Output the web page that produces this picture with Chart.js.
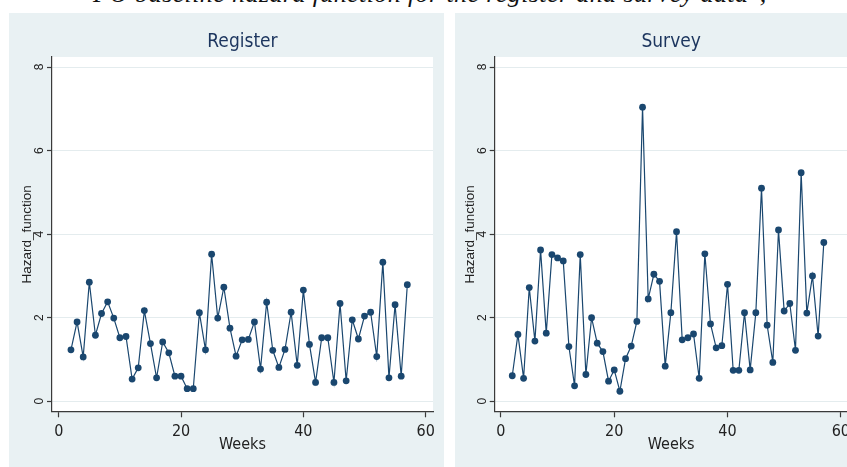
<!DOCTYPE html>
<html>
<head>
<meta charset="utf-8">
<script src="https://cdn.jsdelivr.net/npm/chart.js@4.4.0/dist/chart.umd.min.js"></script>
<style>
  html, body { margin: 0; padding: 0; background: #fff; width: 847px; height: 467px; overflow: hidden; }
  #caption { position: absolute; left: 93px; top: -21px; font: italic 26px 'Liberation Serif', 'Times New Roman', serif; letter-spacing: 0.4px; line-height: 30px; white-space: nowrap; color: #111; }
  .panel { position: absolute; top: 13px; height: 454px; background: #e9f1f3; }
  #register-panel { left: 9px; width: 435px; }
  #survey-panel { left: 455px; width: 403px; }
  .panel canvas { display: block; }
</style>
</head>
<body>
<div id="caption">PO baseline hazard function for the register and survey data",</div>
<div class="panel" id="register-panel"><canvas id="register-chart"></canvas></div>
<div class="panel" id="survey-panel"><canvas id="survey-chart"></canvas></div>
<script>
var weeks = [2, 3, 4, 5, 6, 7, 8, 9, 10, 11, 12, 13, 14, 15, 16, 17, 18, 19, 20, 21,
  22, 23, 24, 25, 26, 27, 28, 29, 30, 31, 32, 33, 34, 35, 36, 37, 38, 39, 40, 41,
  42, 43, 44, 45, 46, 47, 48, 49, 50, 51, 52, 53, 54, 55, 56, 57];

var register_hazard = [1.23, 1.90, 1.06, 2.85, 1.58, 2.10, 2.38, 1.99, 1.52, 1.55,
  0.53, 0.80, 2.17, 1.38, 0.56, 1.42, 1.16, 0.60, 0.60, 0.30,
  0.30, 2.12, 1.23, 3.52, 1.99, 2.73, 1.75, 1.08, 1.47, 1.48,
  1.90, 0.77, 2.37, 1.22, 0.81, 1.24, 2.13, 0.86, 2.66, 1.36,
  0.45, 1.52, 1.52, 0.45, 2.34, 0.49, 1.95, 1.49, 2.04, 2.13,
  1.07, 3.33, 0.56, 2.31, 0.60, 2.79];

var survey_hazard = [0.61, 1.60, 0.55, 2.72, 1.44, 3.62, 1.63, 3.51, 3.43, 3.36,
  1.31, 0.37, 3.51, 0.64, 2.00, 1.39, 1.19, 0.48, 0.75, 0.24,
  1.02, 1.32, 1.91, 7.04, 2.45, 3.04, 2.87, 0.84, 2.12, 4.06,
  1.47, 1.52, 1.61, 0.55, 3.53, 1.85, 1.28, 1.33, 2.80, 0.74,
  0.74, 2.12, 0.75, 2.12, 5.10, 1.82, 0.93, 4.10, 2.16, 2.34,
  1.22, 5.47, 2.11, 3.00, 1.56, 3.80];

var week_ticks = [0, 20, 40, 60];
var hazard_ticks = [0, 2, 4, 6, 8];

const NAVY = "#1a476f";
const AXIS = "#3a3a3a";
const NARROW = "'Liberation Sans Narrow', 'Arial Narrow', 'DejaVu Sans Condensed', sans-serif";

// white plot region on top of the tinted panel
const plot_background = {
  id: "plot_background",
  beforeDraw(chart) {
    const { ctx, chartArea: a } = chart;
    ctx.save();
    ctx.fillStyle = "#fff";
    ctx.fillRect(a.left, a.top, a.right - a.left, a.bottom - a.top);
    ctx.restore();
  },
};

function gen_chart(canvas_id, title, values, dims) {
  var points = weeks.map((w, i) => ({ x: w, y: values[i] }));

  return new Chart(document.getElementById(canvas_id), {
    type: "line",
    data: {
      datasets: [
        {
          data: points,
          borderColor: NAVY,
          backgroundColor: NAVY,
          borderWidth: 1.2,
          pointRadius: 3.4,
          pointHoverRadius: 3.4,
          pointBorderWidth: 0,
          pointBackgroundColor: NAVY,
          tension: 0,
        },
      ],
    },
    options: {
      responsive: true,
      maintainAspectRatio: false,
      animation: false,
      events: [],
      layout: { padding: { left: 0, right: dims.right, top: 0, bottom: 0 } },
      plugins: {
        legend: { display: false },
        tooltip: { enabled: false },
        title: {
          display: true,
          text: title,
          fullSize: false,
          color: "#1c355e",
          font: { family: NARROW, size: 19, weight: "normal" },
          padding: { top: 18, bottom: 3.2 },
        },
      },
      scales: {
        x: {
          type: "linear",
          min: -1.1,
          max: 61.2,
          afterFit(s) {
            s.height = 55.3;
          },
          afterBuildTicks(s) {
            s.ticks = week_ticks.map((v) => ({ value: v }));
          },
          border: { color: AXIS, width: 1.2 },
          grid: {
            drawOnChartArea: false,
            drawTicks: true,
            tickLength: 5.6,
            tickColor: AXIS,
            tickWidth: 1.2,
          },
          ticks: {
            maxRotation: 0,
            padding: 5,
            color: "#222",
            font: { family: NARROW, size: 16 },
          },
          title: {
            display: true,
            text: "Weeks",
            color: "#222",
            font: { family: NARROW, size: 16 },
            padding: { top: 0, bottom: 12.4 },
          },
        },
        y: {
          min: -0.25,
          max: 8.24,
          afterFit(s) {
            s.width = dims.y_width;
          },
          afterBuildTicks(s) {
            s.ticks = hazard_ticks.map((v) => ({ value: v }));
          },
          border: { color: AXIS, width: 1.2 },
          grid: {
            color: "#e4ecee",
            lineWidth: 1,
            drawTicks: true,
            tickLength: 5,
            tickColor: AXIS,
            tickWidth: 1.2,
          },
          ticks: {
            minRotation: 90,
            maxRotation: 90,
            crossAlign: "center",
            padding: dims.tick_pad,
            color: "#222",
            font: { family: "'Liberation Sans', Arial, sans-serif", size: 12 },
          },
          title: {
            display: true,
            text: "Hazard_function",
            color: "#222",
            font: { family: "'Liberation Sans', Arial, sans-serif", size: 13.5 },
            padding: { top: dims.title_pad, bottom: 0 },
          },
        },
      },
    },
    plugins: [plot_background],
  });
}

gen_chart("register-chart", "Register", register_hazard, {
  right: 11,
  y_width: 43,
  tick_pad: 4.4,
  title_pad: 9.8,
});

gen_chart("survey-chart", "Survey", survey_hazard, {
  right: 10.4,
  y_width: 39.7,
  tick_pad: 3.4,
  title_pad: 7.6,
});
</script>
</body>
</html>
